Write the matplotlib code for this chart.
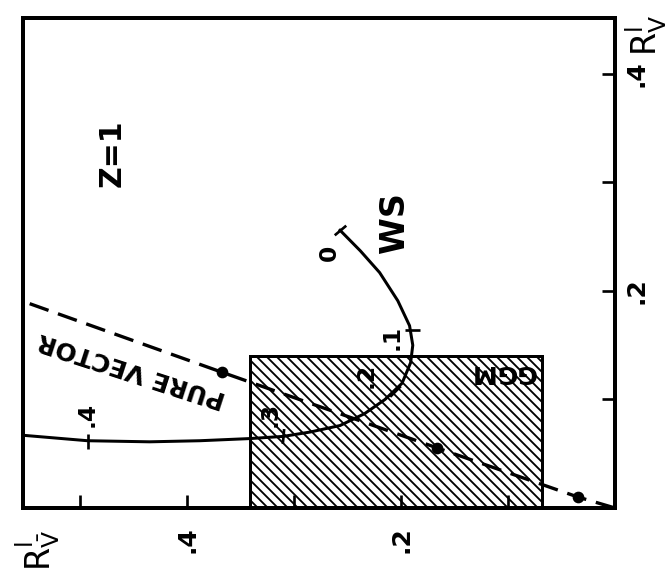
import matplotlib
matplotlib.use('Agg')
from matplotlib import pyplot as plt
from matplotlib.patches import Rectangle

plt.rcParams['font.family'] = ['DejaVu Sans']
plt.rcParams['mathtext.fontset'] = 'dejavusans'
plt.rcParams['hatch.linewidth'] = 1.1

# WS curve (R_nubar, R_nu)
ws_rnubar = [0.257, 0.238, 0.220, 0.203, 0.192, 0.189, 0.191, 0.199, 0.215, 0.234,
             0.257, 0.285, 0.310, 0.341, 0.388, 0.435, 0.493, 0.553]
ws_rnu = [0.256, 0.237, 0.217, 0.191, 0.168, 0.150, 0.134, 0.115, 0.100, 0.087,
          0.076, 0.070, 0.066, 0.064, 0.062, 0.061, 0.062, 0.067]
# parameter marks on the WS curve
ws_par_x = [0.257, 0.190, 0.206, 0.310, 0.493]
ws_par_y = [0.256, 0.164, 0.108, 0.066, 0.062]
ws_par_labels = ['0', '.1', '.2', '.3', '.4']
ws_lab_x = [0.267, 0.208, 0.233, 0.322, 0.493]
ws_lab_y = [0.235, 0.157, 0.122, 0.086, 0.086]

# pure vector line
pv_rnubar = [0.0, 0.0346, 0.166, 0.367, 0.549]
pv_rnu = [0.0, 0.0101, 0.0553, 0.125, 0.189]
pv_dot_x = [0.0346, 0.166, 0.367]
pv_dot_y = [0.0101, 0.0553, 0.125]

# GGM allowed region
ggm_x0, ggm_x1 = 0.068, 0.341
ggm_y0, ggm_y1 = 0.0, 0.140

fig = plt.figure(figsize=(669 / 120, 577 / 120), dpi=120)
ax = fig.add_axes([23 / 669, 1 - 508 / 577, 592 / 669, 490 / 577])
ax.set_xlim(0.5533, 0)
ax.set_ylim(0, 0.4516)

ax.add_patch(Rectangle((ggm_x0, ggm_y0), ggm_x1 - ggm_x0, ggm_y1 - ggm_y0,
                       facecolor='white', edgecolor='black', linewidth=1.8,
                       hatch='\\\\\\\\', zorder=1))

ax.plot(ws_rnubar, ws_rnu, color='black', linewidth=1.8, zorder=3)
tick_angles = [-50, 90, -45, -5, 0]
for px, py, ang in zip(ws_par_x, ws_par_y, tick_angles):
    ax.plot([px], [py], marker=(2, 0, ang), markersize=9, markeredgewidth=1.6,
            color='black', zorder=4)
for lx, ly, t in zip(ws_lab_x, ws_lab_y, ws_par_labels):
    ax.text(lx, ly, t, rotation=90, fontsize=14, ha='center', va='center',
            weight='bold')

ax.plot(pv_rnubar, pv_rnu, color='black', linewidth=2.0, linestyle=(0, (6, 3)), zorder=3)
ax.plot(pv_dot_x, pv_dot_y, 'o', color='black', markersize=6, zorder=4)

ax.text(0.452, 0.128, 'PURE VECTOR', rotation=162, rotation_mode='anchor',
        fontsize=15, ha='center', va='center', weight='bold')
ax.text(0.470, 0.327, 'Z=1', rotation=90, fontsize=18, ha='center', va='center',
        weight='bold')
ax.text(0.206, 0.263, 'WS', rotation=90, fontsize=20, ha='center', va='center',
        weight='bold')
ax.text(0.105, 0.125, 'GGM', rotation=180, fontsize=15, ha='center', va='center',
        weight='bold')

# axes
for s in ax.spines.values():
    s.set_linewidth(2.4)
ax.set_xticks([0.1, 0.2, 0.3, 0.4, 0.5])
ax.set_xticklabels(['', '.2', '', '.4', ''], rotation=90, fontsize=15, weight='bold')
ax.yaxis.tick_right()
ax.set_yticks([0.1, 0.2, 0.3, 0.4])
ax.set_yticklabels(['', '.2', '', '.4'], rotation=90, fontsize=15, weight='bold',
                   va='center')
ax.tick_params(axis='x', direction='in', length=8, width=1.6, pad=11, top=False)
ax.tick_params(axis='y', direction='in', length=8, width=1.6, pad=6, left=False)

fig.text(38 / 669, 1 - 550 / 577, r'R$^{\mathsf{l}}_{\bar{\mathsf{V}}}$', rotation=90,
         fontsize=20, ha='center', va='center')
fig.text(645 / 669, 1 - 35 / 577, r'R$^{\mathsf{l}}_{\mathsf{V}}$', rotation=90,
         fontsize=20, ha='center', va='center')

plt.savefig('out.png', dpi=120)
